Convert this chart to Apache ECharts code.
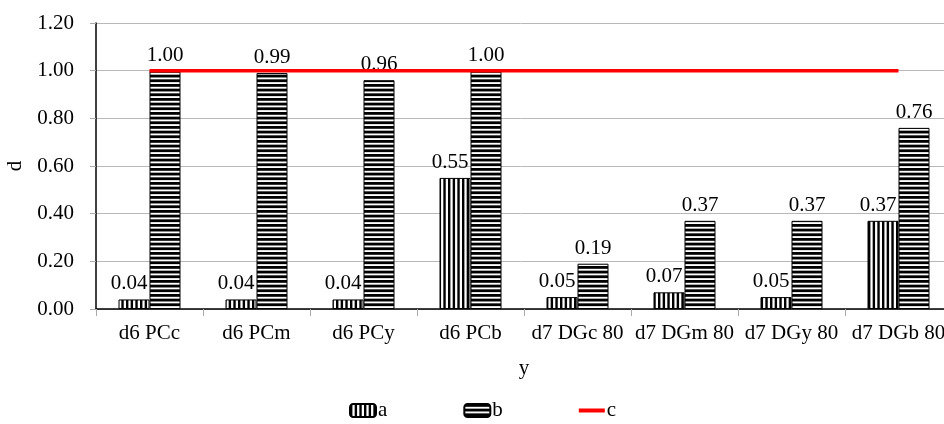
<!DOCTYPE html>
<html>
<head>
<meta charset="utf-8">
<script src="https://cdn.jsdelivr.net/npm/echarts@6/dist/echarts.min.js"></script>
<style>
  html, body { margin: 0; padding: 0; background: #fff; }
  #chart { width: 944px; height: 424px; }
</style>
</head>
<body>
<div id="chart"></div>
<script>
// Categories along the x axis
var categories = ['d6 PCc', 'd6 PCm', 'd6 PCy', 'd6 PCb', 'd7 DGc 80', 'd7 DGm 80', 'd7 DGy 80', 'd7 DGb 80'];
// Series values
var seriesA = [0.04, 0.04, 0.04, 0.55, 0.05, 0.07, 0.05, 0.37];
var seriesB = [1.00, 0.99, 0.96, 1.00, 0.19, 0.37, 0.37, 0.76];
var seriesC = [1.00, 1.00, 1.00, 1.00, 1.00, 1.00, 1.00, 1.00];
// Y axis tick range
var yMin = 0, yMax = 1.2, yStep = 0.2;

var FONT = 'Liberation Serif';

// Striped fill patterns drawn on small canvases
function stripePattern(vertical) {
  var c = document.createElement('canvas');
  c.width = 14; c.height = 14;
  var g = c.getContext('2d');
  g.fillStyle = '#ffffff';
  g.fillRect(0, 0, 14, 14);
  g.fillStyle = '#000000';
  var period = 14 / 3;
  var black = vertical ? 2.4 : 2.8;
  for (var i = 0; i < 3; i++) {
    if (vertical) g.fillRect(i * period, 0, black, 14);
    else g.fillRect(0, i * period, 14, black);
  }
  return { image: c, repeat: 'repeat' };
}

var chart = echarts.init(document.getElementById('chart'), null, { renderer: 'canvas' });

var labelStyle = {
  show: true,
  position: 'top',
  distance: 5,
  color: '#000',
  fontFamily: FONT,
  fontSize: 21,
  formatter: function (p) { return p.value.toFixed(2); }
};

chart.setOption({
  animation: false,
  textStyle: { fontFamily: FONT, color: '#000' },
  grid: { left: 96, top: 23, width: 856, height: 286, containLabel: false, outerBoundsMode: 'none' },
  legend: {
    left: 344,
    top: 395,
    itemWidth: 26,
    itemHeight: 13,
    itemGap: 76,
    textStyle: { fontFamily: FONT, fontSize: 21, color: '#000', padding: [0, 0, 0, -3] },
    data: [
      { name: 'a' },
      { name: 'b' },
      { name: 'c', icon: 'path://M0,0 L26,0 L26,4 L0,4 Z' }
    ]
  },
  xAxis: {
    type: 'category',
    data: categories,
    boundaryGap: true,
    name: 'y',
    nameLocation: 'middle',
    nameGap: 49,
    nameTextStyle: { fontFamily: FONT, fontSize: 21, color: '#000' },
    axisLine: { lineStyle: { color: '#000', width: 1.5 } },
    axisTick: { show: true, alignWithLabel: false, length: 7, lineStyle: { color: '#aaa' } },
    axisLabel: { interval: 0, margin: 14, fontFamily: FONT, fontSize: 21, color: '#000' },
    splitLine: { show: false }
  },
  yAxis: {
    type: 'value',
    min: yMin,
    max: yMax,
    interval: yStep,
    name: 'd',
    nameLocation: 'middle',
    nameRotate: 90,
    nameGap: 70,
    nameTextStyle: { fontFamily: FONT, fontSize: 21, color: '#000' },
    axisLine: { show: true, lineStyle: { color: '#000', width: 1.5 } },
    axisTick: { show: true, length: 6, lineStyle: { color: '#aaa' } },
    axisLabel: {
      margin: 22, fontFamily: FONT, fontSize: 21, color: '#000',
      formatter: function (v) { return v.toFixed(2); }
    },
    splitLine: { show: true, lineStyle: { color: '#b8b8b8', width: 1 } }
  },
  series: [
    {
      name: 'a',
      type: 'bar',
      data: seriesA,
      barWidth: 31,
      barGap: '0%',
      itemStyle: { color: stripePattern(true), borderColor: '#000', borderWidth: 1 },
      label: Object.assign({}, labelStyle, { offset: [-5, 0] })
    },
    {
      name: 'b',
      type: 'bar',
      data: seriesB,
      barWidth: 31,
      barGap: '0%',
      itemStyle: { color: stripePattern(false), borderColor: '#000', borderWidth: 1 },
      label: labelStyle
    },
    {
      name: 'c',
      type: 'line',
      data: seriesC,
      symbol: 'none',
      lineStyle: { color: '#ff0000', width: 3.5 },
      itemStyle: { color: '#ff0000' },
      z: 3
    }
  ]
});
</script>
</body>
</html>
